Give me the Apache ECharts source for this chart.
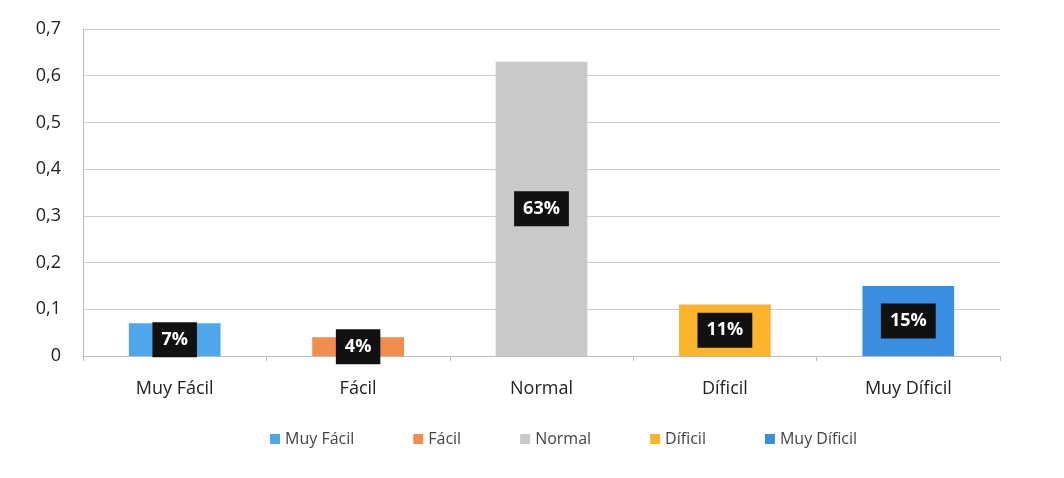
<!DOCTYPE html>
<html>
<head>
<meta charset="utf-8">
<script src="https://cdn.jsdelivr.net/npm/echarts@6/dist/echarts.min.js"></script>
<style>
  html, body { margin: 0; padding: 0; background: #ffffff; }
  #chart { width: 1064px; height: 478px; }
</style>
</head>
<body>
<div id="chart"></div>
<script>
// Perceived difficulty, share of responses per category
const categories = ['Muy Fácil', 'Fácil', 'Normal', 'Díficil', 'Muy Díficil'];
const legendNames = ['Muy Fácil', 'Fácil', 'Normal', 'Díficil', 'Muy Díficil'];
const values = [0.07, 0.04, 0.63, 0.11, 0.15];
const colors = ['#4ea7ea', '#f28c4f', '#c9c9c9', '#fbb42c', '#3a8ee2'];
const yTicks = [0, 0.1, 0.2, 0.3, 0.4, 0.5, 0.6, 0.7];

const font = '"Open Sans", "Noto Sans", sans-serif';

// One series per category so every bar gets its own legend entry;
// stacking keeps each bar centred on its category slot.
const series = legendNames.map((name, i) => ({
  name: name,
  type: 'bar',
  stack: 'all',
  barWidth: '50%',
  itemStyle: { color: colors[i] },
  data: values.map((v, j) => (j === i ? v : null)),
  label: {
    show: true,
    position: 'inside',
    formatter: p => Math.round(p.value * 100) + '%',
    color: '#ffffff',
    fontFamily: font,
    fontWeight: 'bold',
    fontSize: 18,
    backgroundColor: '#111111',
    padding: [9, 9, 8, 9]
  }
}));

const chart = echarts.init(document.getElementById('chart'));
chart.setOption({
  backgroundColor: '#ffffff',
  animation: false,
  grid: { left: 83, right: 64, top: 29, bottom: 122 },
  legend: {
    data: legendNames,
    bottom: 26,
    left: 265,
    itemWidth: 10,
    itemHeight: 10,
    itemGap: 59,
    icon: 'rect',
    textStyle: { fontFamily: font, fontSize: 16, color: '#444444' }
  },
  xAxis: {
    type: 'category',
    data: categories,
    axisLine: { lineStyle: { color: '#bdbdbd' } },
    axisTick: { show: true, length: 5, lineStyle: { color: '#bdbdbd' } },
    axisLabel: { fontFamily: font, fontSize: 18, color: '#222222', margin: 24 }
  },
  yAxis: {
    type: 'value',
    min: 0,
    max: 0.7,
    interval: 0.1,
    axisLine: { show: true, lineStyle: { color: '#bdbdbd' } },
    axisTick: { show: false },
    splitLine: { lineStyle: { color: '#cfcfcf' } },
    axisLabel: {
      fontFamily: font,
      fontSize: 18,
      color: '#222222',
      margin: 22,
      formatter: v => {
        const t = yTicks.find(x => Math.abs(x - v) < 1e-9);
        return (t === 0 ? '0' : String(+(t ?? v).toFixed(1)).replace('.', ','));
      }
    }
  },
  series: series
});
</script>
</body>
</html>
